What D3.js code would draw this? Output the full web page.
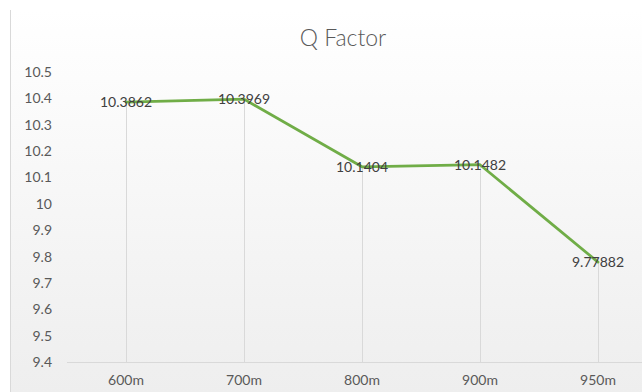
<!DOCTYPE html>
<html>
<head>
<meta charset="utf-8">
<script src="https://cdn.jsdelivr.net/npm/d3@7"></script>
<style>
  html, body { margin: 0; padding: 0; background: #fff; }
  svg { display: block; }
  text { font-family: Lato, "Open Sans", sans-serif; }
</style>
</head>
<body>
<svg id="chart" width="642" height="392"></svg>
<script>
// Q factor measured at each fibre length
const categories = ["600m", "700m", "800m", "900m", "950m"];
const qValues = [10.3862, 10.3969, 10.1404, 10.1482, 9.77882];
const valueLabels = ["10.3862", "10.3969", "10.1404", "10.1482", "9.77882"];
const yTicks = [9.4, 9.5, 9.6, 9.7, 9.8, 9.9, 10, 10.1, 10.2, 10.3, 10.4, 10.5];
const yTickLabels = ["9.4", "9.5", "9.6", "9.7", "9.8", "9.9", "10", "10.1", "10.2", "10.3", "10.4", "10.5"];
const title = "Q Factor";

const W = 642, H = 392;
const svg = d3.select("#chart");

// soft vertical background gradient
const defs = svg.append("defs");
const grad = defs.append("linearGradient").attr("id", "bg").attr("x1", 0).attr("y1", 0).attr("x2", 0).attr("y2", 1);
grad.append("stop").attr("offset", "0%").attr("stop-color", "#ffffff");
grad.append("stop").attr("offset", "100%").attr("stop-color", "#eeeeee");
svg.append("rect").attr("x", 10).attr("y", 10).attr("width", W - 10).attr("height", H - 10).attr("fill", "url(#bg)");
svg.append("line").attr("x1", 10.5).attr("x2", 10.5).attr("y1", 10).attr("y2", H).attr("stroke", "#d9d9d9");

const plot = { left: 67, right: 657, top: 72, bottom: 362 };

const x = d3.scaleBand().domain(categories).range([plot.left, plot.right]);
const y = d3.scaleLinear().domain([9.4, 10.5]).range([plot.bottom, plot.top]);
const cx = d => x(d) + x.bandwidth() / 2;

// title
svg.append("text").attr("x", 343).attr("y", 46).attr("text-anchor", "middle")
  .attr("font-size", 23).attr("font-weight", 300).attr("fill", "#595959").text(title);

// drop lines from each point down to the category axis
svg.append("g").selectAll("line").data(qValues).join("line")
  .attr("x1", (d, i) => Math.round(cx(categories[i])) + 0.5)
  .attr("x2", (d, i) => Math.round(cx(categories[i])) + 0.5)
  .attr("y1", d => y(d)).attr("y2", plot.bottom)
  .attr("stroke", "#d9d9d9").attr("stroke-width", 1);

// category axis
const xAxis = d3.axisBottom(x).tickSize(0).tickPadding(13);
const gx = svg.append("g").attr("transform", `translate(0,${plot.bottom})`).call(xAxis);
gx.select(".domain").attr("stroke", "#d9d9d9").attr("d", `M${plot.left},0.5H${plot.right}`);
gx.selectAll("text").attr("font-size", 14).attr("fill", "#595959").attr("font-family", "Lato, sans-serif");

// value axis (labels only)
const yAxis = d3.axisLeft(y).tickValues(yTicks).tickFormat((d, i) => yTickLabels[i]).tickSize(0).tickPadding(0);
const gy = svg.append("g").attr("transform", "translate(52,0)").call(yAxis);
gy.select(".domain").remove();
gy.selectAll("text").attr("font-size", 14).attr("fill", "#595959").attr("font-family", "Lato, sans-serif");

// series line
const line = d3.line().x((d, i) => cx(categories[i])).y(d => y(d));
svg.append("path").datum(qValues).attr("d", line)
  .attr("fill", "none").attr("stroke", "#70ad47").attr("stroke-width", 2.75)
  .attr("stroke-linejoin", "round").attr("stroke-linecap", "round");

// data labels centred on each point
svg.append("g").selectAll("text").data(qValues).join("text")
  .attr("x", (d, i) => cx(categories[i]))
  .attr("y", d => y(d))
  .attr("dy", "0.35em")
  .attr("text-anchor", "middle")
  .attr("font-size", 14).attr("fill", "#404040")
  .text((d, i) => valueLabels[i]);
</script>
</body>
</html>
